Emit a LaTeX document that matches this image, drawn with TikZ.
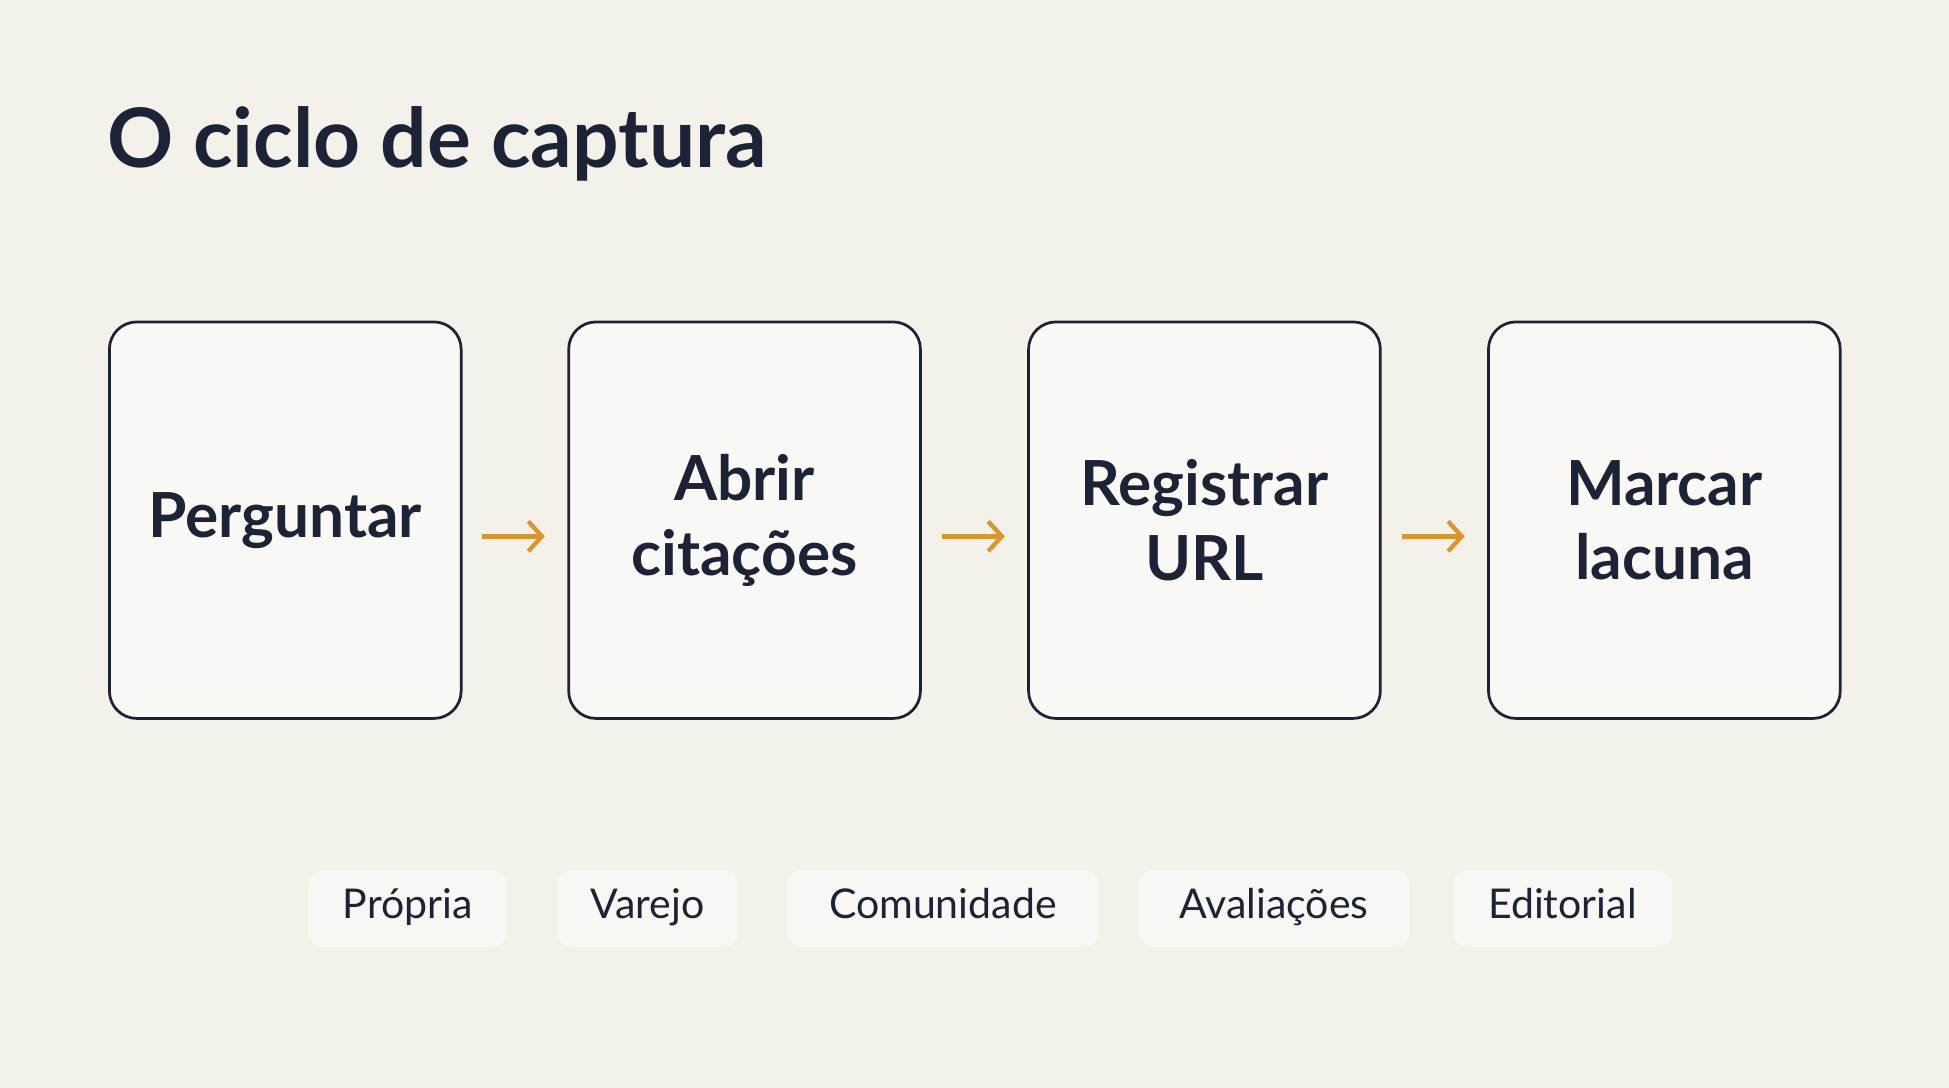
\documentclass[tikz,border=0pt]{standalone}
\usepackage{fontspec}
\setmainfont{Lato}
\usetikzlibrary{arrows.meta}
\definecolor{bg}{HTML}{F4F1EB}
\definecolor{boxfill}{HTML}{FAF8F4}
\definecolor{navy}{HTML}{1C2336}
\definecolor{orange}{HTML}{D9962E}
\definecolor{pill}{HTML}{F9F7F3}
\begin{document}
\begin{tikzpicture}[x=1pt,y=1pt,
  stage/.style={draw=navy,line width=2.2pt,fill=boxfill,rounded corners=22pt,minimum width=283pt,minimum height=319pt,inner sep=0pt,align=center,font=\fontsize{50}{60}\selectfont\bfseries,text=navy},
  tag/.style={fill=pill,rounded corners=12pt,minimum height=62pt,inner sep=0pt,text height=23pt,text depth=7pt,font=\fontsize{33}{36}\selectfont,text=navy},
  arr/.style={draw=orange,line width=3.5pt,-{Straight Barb[length=11pt,width=24pt,line width=3.5pt]}}]
\useasboundingbox (0,0) rectangle (1568,875);
\fill[bg] (0,0) rectangle (1568,875);
\node[anchor=base west,inner sep=0pt,font=\fontsize{66}{70}\selectfont\bfseries,text=navy] (title) at (86,740) {O ciclo de captura};
\node[stage] (a) at (229.5,456.5) {Perguntar};
\node[stage] (b) at (599,456.5) {Abrir\\citações};
\node[stage] (c) at (969,456.5) {Registrar\\URL};
\node[stage] (d) at (1339,456.5) {Marcar\\lacuna};
\draw[arr] ([xshift=16pt,yshift=-13pt]a.east) -- ([xshift=-18pt,yshift=-13pt]b.west);
\draw[arr] ([xshift=16pt,yshift=-13pt]b.east) -- ([xshift=-18pt,yshift=-13pt]c.west);
\draw[arr] ([xshift=16pt,yshift=-13pt]c.east) -- ([xshift=-18pt,yshift=-13pt]d.west);
\node[tag,minimum width=160pt] (t1) at (328,144) {Própria};
\node[tag,minimum width=146pt] (t2) at (521,144) {Varejo};
\node[tag,minimum width=251pt] (t3) at (758.5,144) {Comunidade};
\node[tag,minimum width=218pt] (t4) at (1025,144) {Avaliações};
\node[tag,minimum width=176pt] (t5) at (1257,144) {Editorial};
\end{tikzpicture}
\end{document}
